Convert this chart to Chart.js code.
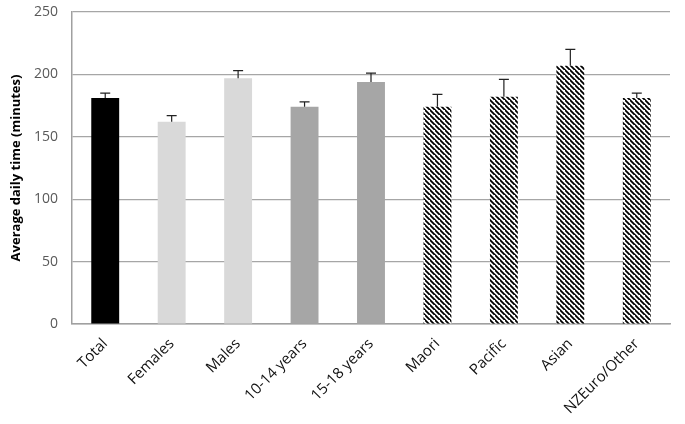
<!DOCTYPE html>
<html>
<head>
<meta charset="utf-8">
<script src="https://cdn.jsdelivr.net/npm/chart.js@4"></script>
<style>
  html, body { margin: 0; padding: 0; background: #fff; }
  #wrap { width: 685px; height: 424px; }
</style>
</head>
<body>
<div id="wrap"><canvas id="chart" width="685" height="424"></canvas></div>
<script>
const categories = ['Total', 'Females', 'Males', '10-14 years', '15-18 years', 'Maori', 'Pacific', 'Asian', 'NZEuro/Other'];
const meanMinutes = [181, 162, 197, 174, 194, 174, 182, 207, 181];
const upperCI = [185, 167, 203, 178, 201, 184, 196, 220, 185];
const yTicks = [0, 50, 100, 150, 200, 250];

function hatchPattern() {
    const size = 5;
    const c = document.createElement('canvas');
    c.width = size; c.height = size;
    const g = c.getContext('2d');
    g.fillStyle = '#fff';
    g.fillRect(0, 0, size, size);
    g.strokeStyle = '#000';
    g.lineWidth = 1.8;
    g.beginPath();
    g.moveTo(-1, -1); g.lineTo(size + 1, size + 1);
    g.moveTo(-size - 1, -1); g.lineTo(1, size + 1);
    g.moveTo(size - 1, -size - 1); g.lineTo(2 * size + 1, size + 1);
    g.stroke();
    return g.createPattern(c, 'repeat');
}

const hatch = hatchPattern();
const barColors = ['#000000', '#d9d9d9', '#d9d9d9', '#a6a6a6', '#a6a6a6', hatch, hatch, hatch, hatch];

// draws upward error bars from the bar top to the upper value
const errorBars = {
    id: 'errorBars',
    afterDatasetsDraw(chart) {
        const ctx = chart.ctx;
        const meta = chart.getDatasetMeta(0);
        const y = chart.scales.y;
        ctx.save();
        ctx.strokeStyle = '#222';
        ctx.lineWidth = 1.2;
        meta.data.forEach((bar, i) => {
            const top = y.getPixelForValue(upperCI[i]);
            const base = y.getPixelForValue(meanMinutes[i]);
            ctx.beginPath();
            ctx.moveTo(bar.x, base);
            ctx.lineTo(bar.x, top);
            ctx.moveTo(bar.x - 5, top);
            ctx.lineTo(bar.x + 5, top);
            ctx.stroke();
        });
        ctx.restore();
    }
};

const ctx = document.getElementById('chart').getContext('2d');
new Chart(ctx, {
    type: 'bar',
    data: {
        labels: categories,
        datasets: [{
            data: meanMinutes,
            backgroundColor: barColors,
            borderWidth: 0,
            barPercentage: 0.42,
            categoryPercentage: 1.0
        }]
    },
    options: {
        responsive: false,
        animation: false,
        layout: { padding: { top: 12, right: 15, left: 0, bottom: 0 } },
        plugins: {
            legend: { display: false },
            tooltip: { enabled: false }
        },
        scales: {
            x: {
                afterFit(axis) { axis.height = 100; axis.paddingLeft = 0; axis.paddingRight = 0; },
                grid: { display: false, drawTicks: false },
                border: { color: '#a0a0a0', width: 1.5 },
                ticks: {
                    color: '#111',
                    font: { family: 'Open Sans', size: 15 },
                    maxRotation: 45,
                    minRotation: 45,
                    padding: 11
                }
            },
            y: {
                min: 0,
                max: 250,
                afterBuildTicks(axis) { axis.ticks = yTicks.map(v => ({ value: v })); },
                afterFit(axis) { axis.width = 72; axis.paddingTop = 0; axis.paddingBottom = 0; },
                grid: { color: '#a6a6a6', lineWidth: 1.2, drawTicks: false },
                border: { color: '#a0a0a0', width: 1.5 },
                ticks: {
                    color: '#595959',
                    font: { family: 'Open Sans', size: 14 },
                    padding: 14
                },
                title: {
                    display: true,
                    text: 'Average daily time (minutes)',
                    color: '#000',
                    font: { family: 'Open Sans', size: 13, weight: 'bold' },
                    padding: { top: 8, bottom: 0 }
                }
            }
        }
    },
    plugins: [errorBars]
});
</script>
</body>
</html>
